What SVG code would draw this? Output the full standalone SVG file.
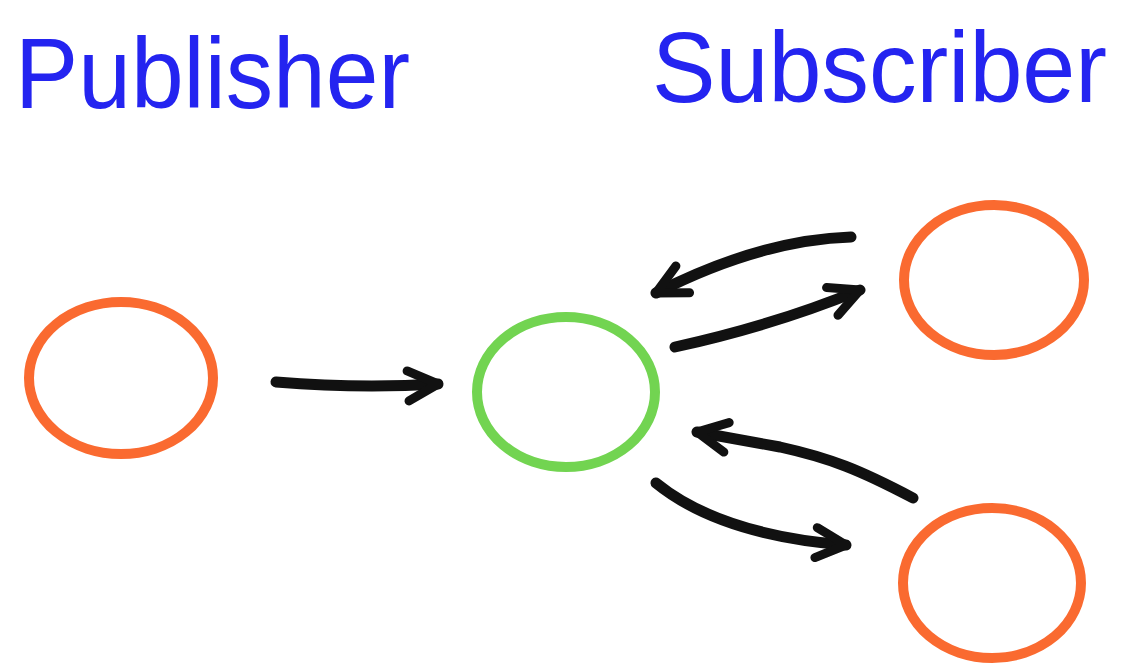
<svg xmlns="http://www.w3.org/2000/svg" width="1134" height="663" viewBox="0 0 1134 663">
<style>
.t{font-family:"Liberation Sans","DejaVu Sans",sans-serif;font-size:100px;fill:#2424f0}
.o{fill:none;stroke:#fa6a30;stroke-width:10}
.g{fill:none;stroke:#72d451;stroke-width:10}
.a{fill:none;stroke:#111;stroke-width:11;stroke-linecap:round;stroke-linejoin:round}
</style>
<defs>
<marker id="h" markerUnits="userSpaceOnUse" markerWidth="60" markerHeight="60" refX="0" refY="0" viewBox="-40 -30 50 60" orient="auto" overflow="visible">
<path d="M-30,-15 L0,0 L-30,15" fill="none" stroke="#111" stroke-width="9" stroke-linecap="round" stroke-linejoin="round"/>
</marker>
</defs>
<rect width="1134" height="663" fill="#fff"/>
<g id="label-publisher"><text class="t" x="15" y="108" textLength="395" lengthAdjust="spacingAndGlyphs">Publisher</text></g>
<g id="label-subscriber"><text class="t" x="652" y="102" textLength="455" lengthAdjust="spacingAndGlyphs">Subscriber</text></g>
<g id="publisher"><ellipse class="o" cx="121" cy="378" rx="92" ry="76"/></g>
<g id="broker"><ellipse class="g" cx="566" cy="392" rx="89" ry="75"/></g>
<g id="subscriber1"><ellipse class="o" cx="994" cy="280" rx="90" ry="75"/></g>
<g id="subscriber2"><ellipse class="o" cx="992" cy="583" rx="89" ry="75"/></g>
<g id="connectors">
<path class="a" d="M276,382 Q360,389 438,384" marker-end="url(#h)"/>
<path class="a" d="M851,237 Q760,240 656,293" marker-end="url(#h)"/>
<path class="a" d="M675,347 Q775,325 860,290" marker-end="url(#h)"/>
<path class="a" d="M913,498 C860,470 830,458 780,447 L697,432" marker-end="url(#h)"/>
<path class="a" d="M656,483 Q720,535 846,545" marker-end="url(#h)"/>
</g>
</svg>
